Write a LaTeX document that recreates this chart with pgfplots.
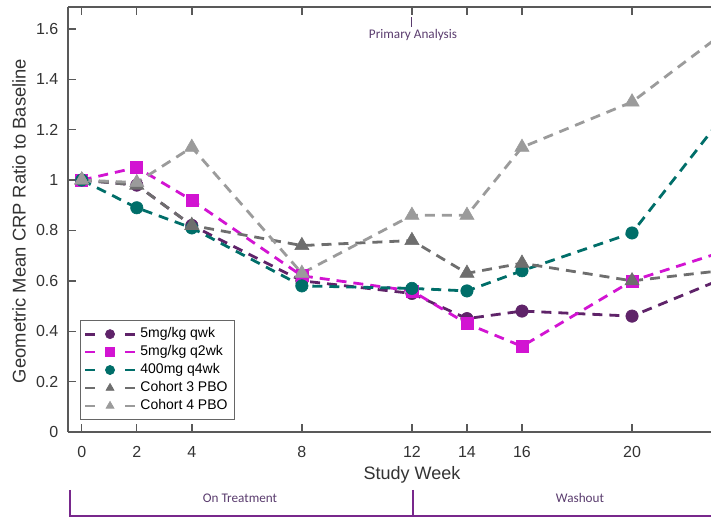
\documentclass[border=0pt]{standalone}
\usepackage{fontspec}
\setmainfont{Liberation Sans}
\newfontfamily\calib{Carlito}
\usepackage{pgfplots}
\pgfplotsset{compat=1.18}
\definecolor{cpurple}{RGB}{95,35,105}
\definecolor{cmag}{RGB}{210,20,210}
\definecolor{cteal}{RGB}{0,110,105}
\definecolor{cdgray}{RGB}{110,110,110}
\definecolor{clgray}{RGB}{155,155,155}
\definecolor{annot}{RGB}{90,60,110}
\definecolor{brack}{RGB}{120,40,140}
\begin{document}
\begin{tikzpicture}
\begin{axis}[
  at={(0pt,0pt)}, anchor=south west,
  scale only axis, width=321.5pt, height=212.5pt,
  xmin=-0.5, xmax=22.87, ymin=0, ymax=1.687,
  axis x line*=box, axis y line*=left,
  axis line style={draw=black!65, line width=0.7pt},
  xtick={0,2,4,8,12,14,16,20},
  ytick={0,0.2,0.4,0.6,0.8,1,1.2,1.4,1.6},
  yticklabels={0,0.2,0.4,0.6,0.8,1,1.2,1.4,1.6},
  tick align=inside, major tick length=4pt,
  tick style={draw=black!65, line width=0.7pt},
  /pgf/number format/assume math mode=true,
  ticklabel style={font=\fontsize{8}{9}\selectfont, text=black!80},
  xticklabel style={yshift=-3.5pt},
  yticklabel style={xshift=-1.3pt},
  xlabel={Study Week},
  xlabel style={font=\fontsize{9}{10}\selectfont, text=black!80, at={(axis description cs:0.535,0)}, anchor=base, yshift=-24pt},
  ylabel={Geometric Mean CRP Ratio to Baseline},
  ylabel style={font=\fontsize{9.2}{10}\selectfont, text=black!80, at={(axis description cs:-0.076,0.4965)}, anchor=center},
  legend style={at={(axis description cs:0.0187,0.028)}, anchor=south west, draw=black!60, line width=0.6pt, font=\fontsize{7}{8}\selectfont, cells={anchor=west}, inner sep=1.5pt, row sep=-1.6pt},
  legend image code/.code={%
    \draw[#1, solid] (0pt,0pt) -- (5pt,0pt) (20pt,0pt) -- (25pt,0pt);
    \draw[#1, mark size=2.3pt] plot[only marks] coordinates {(12.5pt,0pt)};},
  every axis plot/.append style={line width=1.4pt, dash pattern=on 5pt off 3.5pt},
]
\addplot[cpurple, mark=*, mark size=3.1pt, mark options={solid, line width=0.3pt, fill=cpurple, draw=cpurple}] coordinates {
(0,1.0) (2,0.98) (4,0.82) (8,0.60) (12,0.55) (14,0.45) (16,0.48) (20,0.46) (24,0.64)};
\addlegendentry{5mg/kg qwk}
\addplot[cmag, mark=square*, mark size=3pt, mark options={solid, line width=0.3pt, fill=cmag, draw=cmag}] coordinates {
(0,1.0) (2,1.05) (4,0.92) (8,0.62) (12,0.56) (14,0.43) (16,0.34) (20,0.60) (24,0.74)};
\addlegendentry{5mg/kg q2wk}
\addplot[cteal, mark=*, mark size=3.1pt, mark options={solid, line width=0.3pt, fill=cteal, draw=cteal}] coordinates {
(0,1.0) (2,0.89) (4,0.81) (8,0.58) (12,0.57) (14,0.56) (16,0.64) (20,0.79) (24,1.35)};
\addlegendentry{400mg q4wk}
\addplot[cdgray, mark=triangle*, mark size=4.1pt, mark options={solid, line width=0.3pt, fill=cdgray, draw=cdgray}] coordinates {
(0,1.0) (2,0.98) (4,0.82) (8,0.74) (12,0.76) (14,0.63) (16,0.67) (20,0.60) (24,0.65)};
\addlegendentry{Cohort 3 PBO}
\addplot[clgray, mark=triangle*, mark size=4.1pt, mark options={solid, line width=0.3pt, fill=clgray, draw=clgray}] coordinates {
(0,1.0) (2,0.99) (4,1.13) (8,0.63) (12,0.86) (14,0.86) (16,1.13) (20,1.31) (24,1.64)};
\addlegendentry{Cohort 4 PBO}
\end{axis}
\draw[annot, line width=0.6pt] (171.9pt,202.5pt) -- (171.9pt,207.5pt);
\node[annot, font=\calib\fontsize{6.6}{7}\selectfont] at (172.5pt,198.5pt) {Primary Analysis};
\node[annot, font=\calib\fontsize{6.6}{7}\selectfont] at (86pt,-33pt) {On Treatment};
\node[annot, font=\calib\fontsize{6.6}{7}\selectfont] at (256pt,-33pt) {Washout};
\draw[brack, line width=0.9pt] (1pt,-29pt) -- (1pt,-42.5pt);
\draw[brack, line width=0.9pt] (172.5pt,-29pt) -- (172.5pt,-42.5pt);
\draw[brack, line width=0.9pt] (1pt,-42pt) -- (321.5pt,-42pt);
\pgfresetboundingbox
\useasboundingbox (-34pt,-42.5pt) rectangle (321.5pt,216pt);
\end{tikzpicture}
\end{document}
